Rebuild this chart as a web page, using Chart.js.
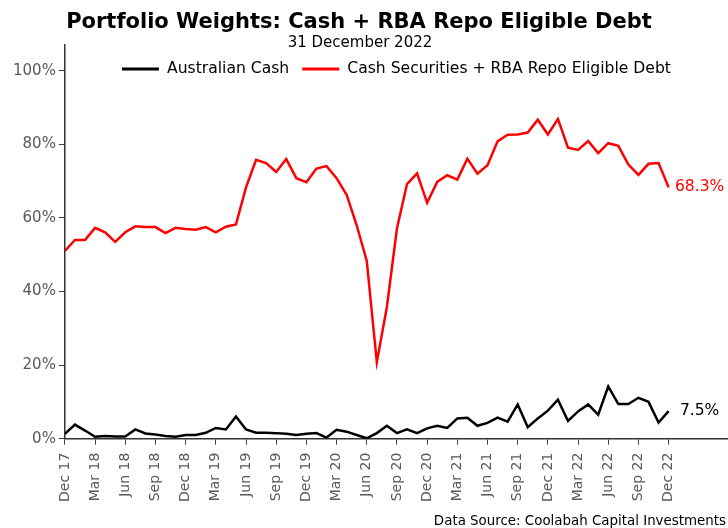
<!DOCTYPE html>
<html>
<head>
<meta charset="utf-8">
<script src="https://cdn.jsdelivr.net/npm/chart.js@4/dist/chart.umd.min.js"></script>
<style>
  html, body { margin: 0; padding: 0; background: #fff; }
  #wrap { width: 728px; height: 528px; position: relative; }
</style>
</head>
<body>
<div id="wrap"><canvas id="c" width="728" height="528"></canvas></div>
<script>
// ---- Data (monthly, Dec 2017 .. Dec 2022) ----
const tickLabels = ['Dec 17','Mar 18','Jun 18','Sep 18','Dec 18','Mar 19','Jun 19','Sep 19','Dec 19',
  'Mar 20','Jun 20','Sep 20','Dec 20','Mar 21','Jun 21','Sep 21','Dec 21','Mar 22','Jun 22','Sep 22','Dec 22'];

const australianCash = [1.3, 3.8, 2.2, 0.5, 0.7, 0.6, 0.6, 2.5, 1.4, 1.1, 0.7, 0.5, 1.0, 1.0, 1.6, 2.9,
  2.5, 6.0, 2.5, 1.6, 1.6, 1.5, 1.3, 1.0, 1.3, 1.5, 0.3, 2.4, 1.9, 1.0, 0.1, 1.5, 3.5, 1.5, 2.5, 1.5,
  2.8, 3.5, 2.9, 5.5, 5.7, 3.5, 4.3, 5.7, 4.6, 9.3, 3.1, 5.5, 7.6, 10.6, 4.8, 7.4, 9.3, 6.5, 14.2, 9.4,
  9.4, 11.1, 10.0, 4.4, 7.5];

const cashSecRepo = [51.0, 54.0, 54.0, 57.3, 56.1, 53.5, 56.1, 57.7, 57.5, 57.5, 55.9, 57.3, 57.0, 56.8,
  57.5, 56.1, 57.6, 58.2, 68.3, 75.8, 74.9, 72.5, 76.0, 70.8, 69.7, 73.4, 74.1, 70.8, 66.3, 58.0, 48.3,
  20.8, 35.8, 57.1, 69.2, 72.1, 64.1, 69.8, 71.6, 70.4, 76.1, 72.0, 74.3, 80.8, 82.6, 82.7, 83.2, 86.7,
  82.7, 86.9, 79.1, 78.5, 80.9, 77.6, 80.3, 79.6, 74.5, 71.7, 74.7, 74.9, 68.3];

const seriesNames = ['Australian Cash', 'Cash Securities + RBA Repo Eligible Debt'];
const yTicks = [0, 20, 40, 60, 80, 100];
const titleText = 'Portfolio Weights: Cash + RBA Repo Eligible Debt';
const subtitleText = '31 December 2022';
const sourceText = 'Data Source: Coolabah Capital Investments';

const FONT = 'DejaVu Sans';
const toPoints = arr => arr.map((v, i) => ({ x: i, y: v }));

// Title, subtitle and legend drawn in the header area / top of plot
const header = {
  id: 'header',
  afterDraw(chart) {
    const ctx = chart.ctx;
    ctx.save();
    ctx.fillStyle = '#000';
    ctx.textAlign = 'center';
    ctx.textBaseline = 'alphabetic';
    ctx.font = 'bold 21px "' + FONT + '"';
    ctx.fillText(titleText, 359, 28);
    ctx.font = '15px "' + FONT + '"';
    ctx.fillText(subtitleText, 360, 46.5);

    // legend
    const ca = chart.chartArea;
    const lineLen = 37, gapText = 8, gapItem = 13, yMid = 69;
    ctx.font = '15.6px "' + FONT + '"';
    const dss = chart.data.datasets;
    const widths = dss.map(d => ctx.measureText(d.label).width);
    let total = 0;
    widths.forEach((w, i) => { total += lineLen + gapText + w + (i < widths.length - 1 ? gapItem : 0); });
    let x = (ca.left + ca.right) / 2 - total / 2;
    ctx.textAlign = 'left';
    ctx.textBaseline = 'middle';
    dss.forEach((d, i) => {
      ctx.strokeStyle = d.borderColor;
      ctx.lineWidth = 3;
      ctx.beginPath();
      ctx.moveTo(x, yMid); ctx.lineTo(x + lineLen, yMid);
      ctx.stroke();
      x += lineLen + gapText;
      ctx.fillStyle = '#000';
      ctx.fillText(d.label, x, yMid);
      x += widths[i] + gapItem;
    });
    ctx.restore();
  }
};

const endLabels = {
  id: 'endLabels',
  afterDatasetsDraw(chart) {
    const ctx = chart.ctx;
    ctx.save();
    ctx.font = '15.5px "' + FONT + '"';
    ctx.textAlign = 'center';
    ctx.textBaseline = 'middle';
    chart.data.datasets.forEach((ds, di) => {
      const meta = chart.getDatasetMeta(di);
      const last = meta.data[meta.data.length - 1];
      const val = ds.data[ds.data.length - 1].y;
      ctx.fillStyle = ds.borderColor;
      ctx.fillText(val.toFixed(1) + '%', last.x + 31, last.y);
    });
    ctx.restore();
  }
};

const sourceNote = {
  id: 'sourceNote',
  afterDraw(chart) {
    const ctx = chart.ctx;
    ctx.save();
    ctx.font = '13.4px "' + FONT + '"';
    ctx.fillStyle = '#000';
    ctx.textAlign = 'right';
    ctx.textBaseline = 'middle';
    ctx.fillText(sourceText, 726, 521.5);
    ctx.restore();
  }
};

new Chart(document.getElementById('c'), {
  type: 'line',
  data: {
    datasets: [
      { label: seriesNames[0], data: toPoints(australianCash), borderColor: '#000000', backgroundColor: '#000000',
        borderWidth: 2.5, pointRadius: 0, tension: 0 },
      { label: seriesNames[1], data: toPoints(cashSecRepo), borderColor: '#ff0000', backgroundColor: '#ff0000',
        borderWidth: 2.5, pointRadius: 0, tension: 0 }
    ]
  },
  options: {
    responsive: false,
    animation: false,
    layout: { padding: { left: 10, right: 0, top: 45, bottom: 18 } },
    plugins: {
      title: { display: false },
      legend: { display: false },
      tooltip: { enabled: false }
    },
    scales: {
      x: {
        type: 'linear', min: 0, max: 65.9,
        afterBuildTicks(scale) { scale.ticks = tickLabels.map((t, k) => ({ value: k * 3 })); },
        ticks: { autoSkip: false, maxRotation: 90, minRotation: 90, color: '#595959', padding: 8,
          font: { family: FONT, size: 14 },
          callback: v => tickLabels[Math.round(v / 3)] },
        grid: { display: true, drawOnChartArea: false, drawTicks: true, tickLength: 6, color: '#404040' },
        border: { display: true, color: '#333333', width: 1.5 }
      },
      y: {
        min: 0, max: 107,
        afterBuildTicks(scale) { scale.ticks = yTicks.map(v => ({ value: v })); },
        ticks: { color: '#595959', padding: 3, font: { family: FONT, size: 15 }, callback: v => v + '%' },
        grid: { display: true, drawOnChartArea: false, drawTicks: true, tickLength: 6, color: '#404040' },
        border: { display: true, color: '#333333', width: 1.5 }
      }
    }
  },
  plugins: [header, endLabels, sourceNote]
});
</script>
</body>
</html>
